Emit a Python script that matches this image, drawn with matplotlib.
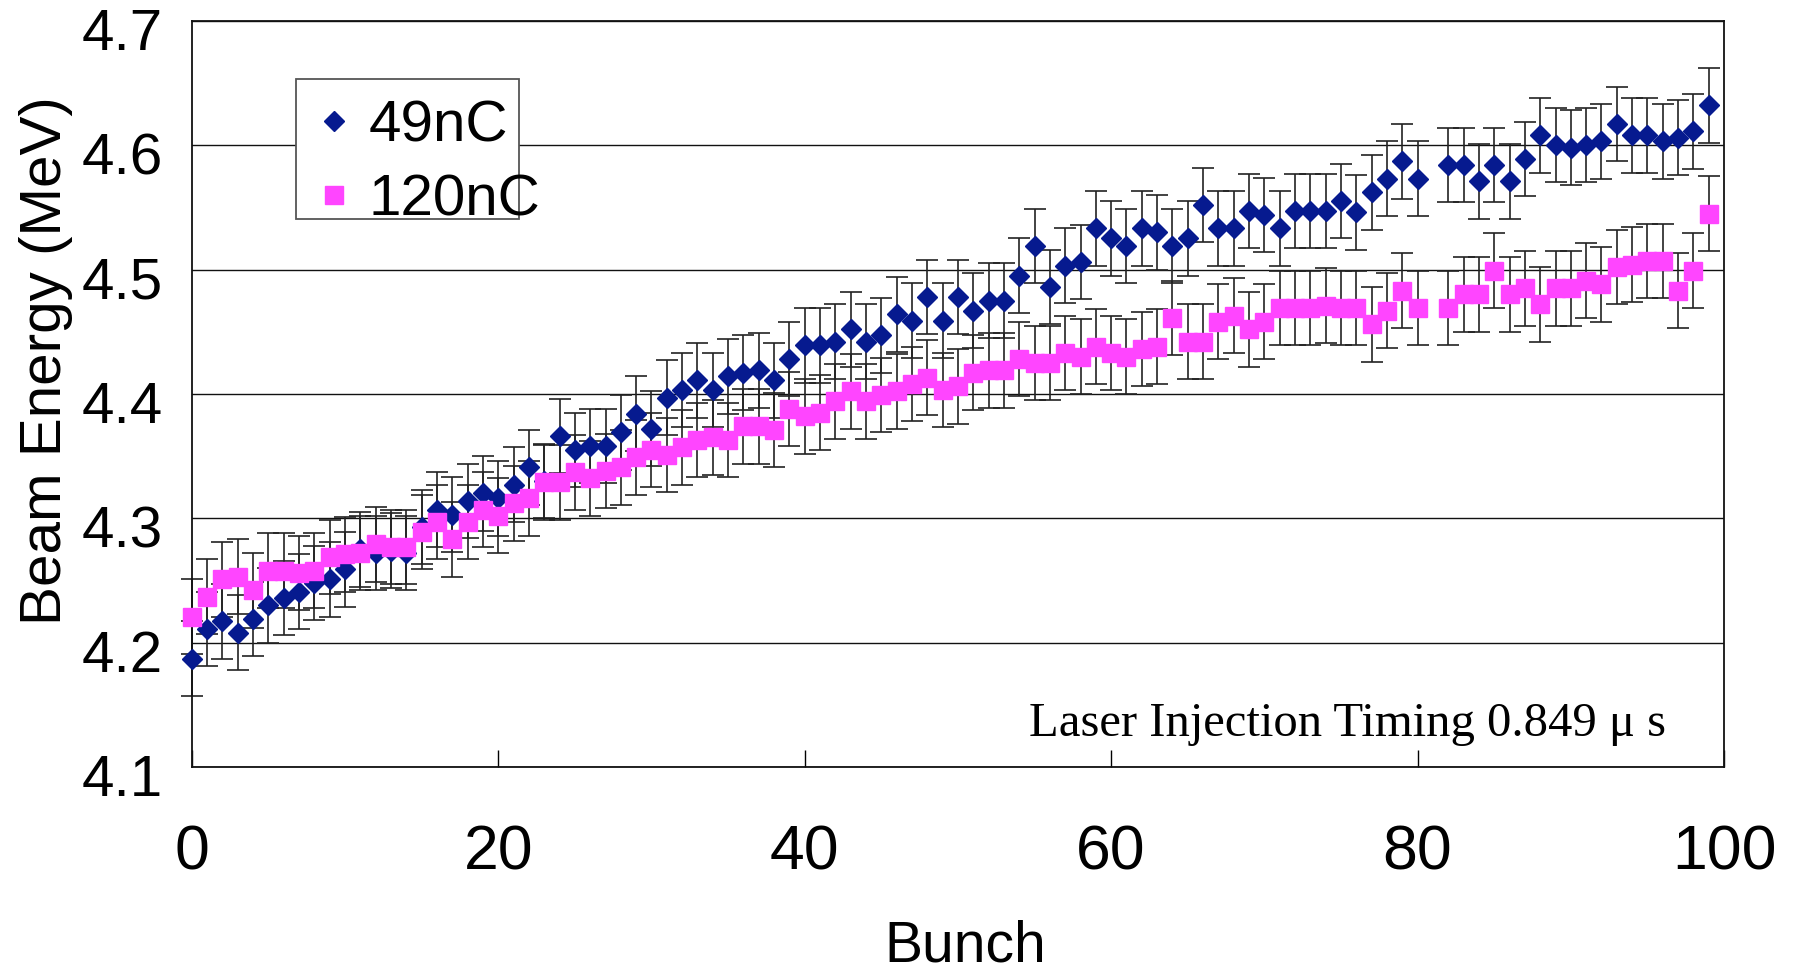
import numpy as np
import matplotlib
matplotlib.use("Agg")
import matplotlib.pyplot as plt
from matplotlib.patches import Rectangle
from matplotlib.transforms import ScaledTranslation

# bunch index 0..99 (bunch 81 has no measurement)
bunch = np.arange(100)

e49 = [4.187, 4.211, 4.217, 4.208, 4.219, 4.230, 4.236, 4.241, 4.248, 4.251,
       4.259, 4.275, 4.272, 4.274, 4.272, 4.293, 4.307, 4.303, 4.314, 4.320,
       4.316, 4.327, 4.341, 4.330, 4.366, 4.355, 4.358, 4.358, 4.369, 4.384,
       4.372, 4.397, 4.403, 4.411, 4.403, 4.414, 4.417, 4.419, 4.411, 4.428,
       4.439, 4.439, 4.442, 4.452, 4.442, 4.447, 4.464, 4.459, 4.478, 4.459,
       4.478, 4.467, 4.475, 4.475, 4.495, 4.519, 4.486, 4.503, 4.506, 4.533,
       4.525, 4.519, 4.533, 4.530, 4.519, 4.525, 4.552, 4.533, 4.533, 4.547,
       4.544, 4.533, 4.547, 4.547, 4.547, 4.555, 4.546, 4.562, 4.573, 4.587,
       4.573, np.nan, 4.584, 4.584, 4.571, 4.584, 4.571, 4.589, 4.608, 4.600,
       4.598, 4.600, 4.603, 4.617, 4.608, 4.608, 4.603, 4.606, 4.611, 4.632]

e120 = [4.221, 4.237, 4.251, 4.253, 4.242, 4.258, 4.258, 4.256, 4.258, 4.269,
        4.271, 4.272, 4.279, 4.277, 4.277, 4.289, 4.297, 4.283, 4.297, 4.307,
        4.302, 4.312, 4.316, 4.329, 4.329, 4.337, 4.332, 4.338, 4.341, 4.349,
        4.355, 4.351, 4.357, 4.363, 4.365, 4.363, 4.374, 4.374, 4.371, 4.388,
        4.382, 4.385, 4.394, 4.402, 4.394, 4.399, 4.402, 4.408, 4.413, 4.403,
        4.406, 4.417, 4.419, 4.419, 4.428, 4.425, 4.425, 4.433, 4.430, 4.438,
        4.433, 4.430, 4.436, 4.438, 4.461, 4.442, 4.442, 4.458, 4.463, 4.452,
        4.458, 4.469, 4.469, 4.469, 4.471, 4.469, 4.469, 4.456, 4.467, 4.483,
        4.469, np.nan, 4.469, 4.480, 4.480, 4.499, 4.480, 4.485, 4.472, 4.485,
        4.485, 4.491, 4.488, 4.502, 4.504, 4.507, 4.507, 4.483, 4.499, 4.545]

err49 = 0.03
err120 = 0.03

plt.rcParams["font.family"] = ["Liberation Sans", "DejaVu Sans"]

fig = plt.figure(figsize=(18.11, 9.72), dpi=100)
ax = fig.add_axes([0.1059, 0.2109, 0.8461, 0.7677])

# error bars first, markers on top
ax.errorbar(bunch, e49, yerr=err49, fmt="none", ecolor="#222222",
            elinewidth=1.2, capsize=8, capthick=1.2, zorder=2, clip_on=False)
ax.errorbar(bunch, e120, yerr=err120, fmt="none", ecolor="#222222",
            elinewidth=1.2, capsize=8, capthick=1.2, zorder=2, clip_on=False)
ax.plot(bunch, e49, "D", color="#061A8F", mec="#061A8F", ms=10.5,
        label="49nC", zorder=3, clip_on=False)
ax.plot(bunch, e120, "s", color="#FF45FF", mec="#FF45FF", ms=12.5,
        label="120nC", zorder=4, clip_on=False)

ax.set_xlim(0, 100)
ax.set_ylim(4.1, 4.7)
ax.set_xticks([0, 20, 40, 60, 80, 100])
ax.set_yticks([4.1, 4.2, 4.3, 4.4, 4.5, 4.6, 4.7])
ax.set_yticklabels(["4.1", "4.2", "4.3", "4.4", "4.5", "4.6", "4.7"])
ax.tick_params(axis="x", direction="in", length=12, width=1, pad=41,
               labelsize=45)
ax.tick_params(axis="y", length=0, pad=21, labelsize=42)
for lab in ax.get_yticklabels():
    lab.set_transform(lab.get_transform()
                      + ScaledTranslation(0, -0.08, fig.dpi_scale_trans))
ax.yaxis.grid(True, color="#111111", linewidth=1)
ax.set_axisbelow(True)
for sp in ax.spines.values():
    sp.set_linewidth(1.3)
    sp.set_color("#111111")

ax.set_xlabel("Bunch", fontsize=41)
ax.xaxis.set_label_coords(0.505, -0.205)
ax.set_ylabel("Beam Energy (MeV)", fontsize=42)
ax.yaxis.set_label_coords(-0.0775, 0.545)

ax.text(0.962, 0.042, "Laser Injection Timing 0.849 μ s", transform=ax.transAxes,
        ha="right", va="baseline", fontsize=35,
        family=["Liberation Serif", "DejaVu Serif"])

# legend box drawn by hand (the label text runs past its right edge)
ax.add_patch(Rectangle((0.068, 0.734), 0.1455, 0.188, transform=ax.transAxes,
                       facecolor="white", edgecolor="#555555", linewidth=1.3,
                       zorder=5))
ax.legend(loc="upper left", bbox_to_anchor=(0.066, 0.926), frameon=False,
          fontsize=42, handlelength=0.6, handletextpad=0.3, labelspacing=0.34,
          borderaxespad=0).set_zorder(6)

fig.savefig("out.png", dpi=100)
